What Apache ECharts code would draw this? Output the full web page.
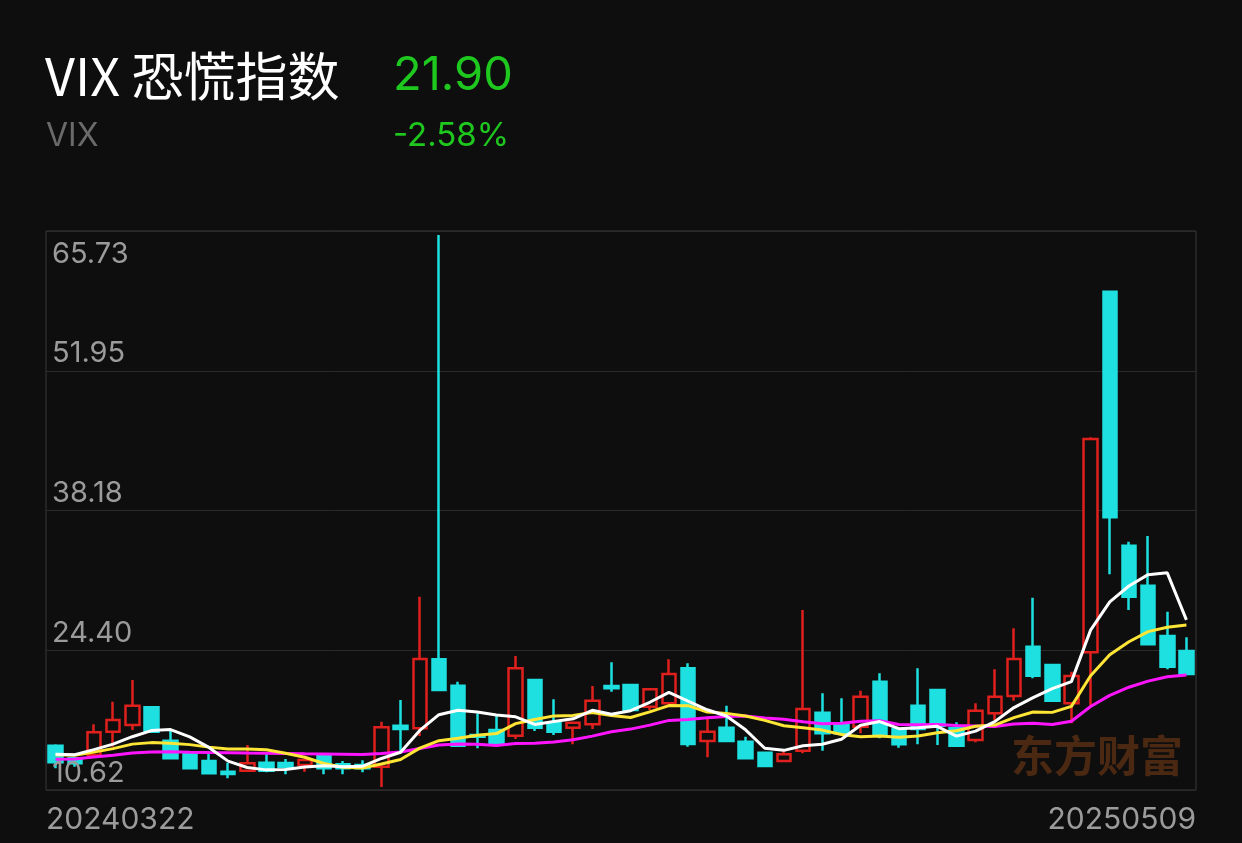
<!DOCTYPE html>
<html>
<head>
<meta charset="utf-8">
<script src="https://cdn.jsdelivr.net/npm/echarts@6/dist/echarts.min.js"></script>
<style>
html,body{margin:0;padding:0;background:#0e0e0e;}
#main{width:1242px;height:843px;}
</style>
</head>
<body>
<div id="main"></div>
<script>
// ---- data ----
const categories = ['20240322','20240328','20240405','20240412','20240419','20240426','20240503','20240510','20240517','20240524','20240531','20240607','20240614','20240621','20240628','20240705','20240712','20240719','20240726','20240802','20240809','20240816','20240823','20240830','20240906','20240913','20240920','20240927','20241004','20241011','20241018','20241025','20241101','20241108','20241115','20241122','20241129','20241206','20241213','20241220','20241227','20250103','20250110','20250117','20250124','20250131','20250207','20250214','20250221','20250228','20250307','20250314','20250321','20250328','20250404','20250411','20250417','20250425','20250502','20250509'];
const openV  = [14.74,13.48,13.81,16.14,16.81,18.58,15.24,13.98,13.21,12.15,12.25,13.05,13.01,12.81,13.81,12.88,12.81,12.64,16.74,16.48,23.37,20.73,15.81,16.31,15.74,21.30,17.04,16.54,16.88,20.70,20.80,18.64,18.97,22.47,15.21,16.54,15.14,14.04,13.21,14.24,18.04,16.91,16.64,21.13,16.41,18.73,20.30,16.48,15.31,17.98,19.70,24.63,22.80,18.97,24.07,60.07,34.71,30.72,25.69,24.20];
const closeV = [13.08,12.98,16.08,17.31,18.73,16.14,13.48,12.49,11.99,11.92,12.98,12.25,12.64,13.31,12.49,12.49,12.49,16.58,16.41,23.40,20.30,14.74,15.64,14.98,22.47,16.54,16.14,17.04,19.23,20.47,18.31,20.37,21.90,14.91,16.14,15.21,13.48,12.71,13.88,18.41,15.98,15.98,19.63,15.74,14.88,16.41,16.74,14.74,18.24,19.63,23.40,21.73,19.23,21.70,45.36,37.54,29.62,24.87,22.63,21.90];
const lowV   = [12.49,12.64,13.71,14.64,16.31,16.01,13.46,12.42,11.92,11.49,12.17,12.09,11.89,12.15,11.89,11.89,12.09,10.62,13.98,15.71,20.23,14.64,14.48,14.91,15.41,16.21,15.81,14.88,16.41,20.13,18.21,18.31,18.90,14.64,13.58,15.11,13.41,12.61,13.16,13.98,14.24,15.91,15.98,15.48,14.54,14.88,14.81,14.66,15.08,17.31,19.23,21.47,19.15,16.98,18.80,31.85,28.29,24.80,22.37,21.80];
const highV  = [14.88,13.61,16.88,19.13,21.30,18.70,16.31,14.04,13.98,13.04,14.81,13.98,13.41,13.36,13.86,13.21,13.28,17.14,19.30,29.62,65.73,21.13,17.98,17.91,23.70,21.40,19.37,17.10,20.70,23.07,20.93,20.47,23.37,22.97,17.58,18.73,15.64,14.11,14.38,28.29,19.97,19.47,20.23,21.97,16.51,22.47,20.37,17.08,18.97,22.37,26.46,29.52,22.90,22.13,45.53,60.14,35.11,35.68,28.12,25.56];
const ma5  = [13.90,13.85,14.35,14.90,15.64,16.25,16.35,15.63,14.57,13.20,12.57,12.33,12.36,12.62,12.73,12.64,12.68,13.47,14.09,16.27,17.84,18.29,18.10,17.81,17.63,16.87,17.15,17.43,18.28,17.88,18.24,19.08,20.06,19.19,18.33,17.71,16.33,14.49,14.28,14.74,14.89,15.39,16.78,17.15,16.44,16.53,16.68,15.70,16.20,17.15,18.55,19.55,20.45,21.14,26.28,29.11,30.69,31.82,32.00,27.31];
const ma10 = [13.85,13.80,14.10,14.45,14.90,15.05,14.98,14.85,14.60,14.42,14.41,14.34,13.99,13.59,12.97,12.60,12.51,12.91,13.36,14.50,15.24,15.49,15.79,15.95,16.95,17.36,17.72,17.77,18.05,17.76,17.56,18.12,18.75,18.74,18.11,17.97,17.71,17.27,16.74,16.53,16.30,15.86,15.63,15.72,15.59,15.71,16.04,16.24,16.68,16.80,17.54,18.11,18.07,18.67,21.72,23.83,25.12,26.13,26.57,26.80];
const ma20 = [13.40,13.42,13.62,13.80,14.02,14.12,14.14,14.10,14.07,14.05,14.02,14.00,13.97,13.94,13.92,13.90,13.86,13.97,14.12,14.46,14.82,14.91,14.89,14.77,14.96,14.98,15.11,15.34,15.70,16.13,16.40,16.80,17.27,17.35,17.53,17.66,17.71,17.52,17.39,17.14,16.93,16.99,17.19,17.23,16.85,16.84,16.87,16.76,16.71,16.66,16.92,16.99,16.85,17.19,18.65,19.77,20.58,21.19,21.62,21.80];
const yTickLabels = ['10.62','24.40','38.18','51.95','65.73'];
const titleText = 'VIX 恐慌指数';
const codeText = 'VIX';
const lastPrice = '21.90';
const changePct = '-2.58%';
const watermark = '东方财富';

// ---- chart ----
const candleData = categories.map((c, i) => [openV[i], closeV[i], lowV[i], highV[i]]);
const chart = echarts.init(document.getElementById('main'), null, {renderer: 'canvas'});
const G = {left: 46, top: 231, width: 1150, height: 559};
const lo = Math.min(...lowV), hi = Math.max(...highV);

const option = {
  backgroundColor: '#0e0e0e',
  animation: false,
  grid: {left: G.left, top: G.top, width: G.width, height: G.height, show: true, borderColor: '#383838', borderWidth: 1, backgroundColor: 'transparent'},
  xAxis: {type: 'category', data: categories, boundaryGap: true, axisLine: {show: false}, axisTick: {show: false}, axisLabel: {show: false}, splitLine: {show: false}},
  yAxis: [
    {type: 'value', min: lo - 0.30, max: hi + 0.40, show: false, scale: true},
    {type: 'value', min: 0, max: 4, interval: 1, axisLine: {show: false}, axisTick: {show: false}, axisLabel: {show: false},
     splitLine: {show: true, lineStyle: {color: '#2a2a2a', width: 1}}}
  ],
  series: [
    {type: 'candlestick', name: 'K', data: candleData, yAxisIndex: 0, barWidth: 14, z: 2,
     itemStyle: {color: '#0e0e0e', color0: '#1fe0e0', borderColor: '#e0201c', borderColor0: '#1fe0e0', borderWidth: 2.5}},
    {type: 'line', name: 'MA20', data: ma20, yAxisIndex: 0, symbol: 'none', z: 3, lineStyle: {color: '#ff14ff', width: 3}},
    {type: 'line', name: 'MA10', data: ma10, yAxisIndex: 0, symbol: 'none', z: 4, lineStyle: {color: '#ffe535', width: 3}},
    {type: 'line', name: 'MA5', data: ma5, yAxisIndex: 0, symbol: 'none', z: 5, lineStyle: {color: '#ffffff', width: 3}}
  ]
};
chart.setOption(option);

// texts
const labelFont = 'Inter, "Noto Sans", sans-serif';
const els = [
  {type: 'text', left: 45, top: 50, z: 10, style: {text: titleText, fill: '#ffffff', font: '52px "Noto Sans CJK SC", sans-serif'}},
  {type: 'text', left: 393, top: 52, z: 10, style: {text: lastPrice, fill: '#1ec81e', font: '47px ' + labelFont}},
  {type: 'text', left: 46, top: 120, z: 10, style: {text: codeText, fill: '#6a6a6a', font: '32px ' + labelFont}},
  {type: 'text', left: 393, top: 120, z: 10, style: {text: changePct, fill: '#1ec81e', font: '33px ' + labelFont}},
  {type: 'text', right: 1242 - 1183, top: 734, z: 0, style: {text: watermark, fill: '#4a2812', font: 'bold 43px "Noto Sans CJK SC", sans-serif'}}
];
yTickLabels.forEach((t, k) => {
  const y = chart.convertToPixel({yAxisIndex: 1}, k);
  const cy = (k === yTickLabels.length - 1) ? y + 23 : y - 17;
  els.push({type: 'text', x: 52, y: cy, z: 10, style: {text: t, fill: '#9b9b9b', font: '29px ' + labelFont, textVerticalAlign: 'middle', textAlign: 'left'}});
});
const x0 = G.left, x1 = G.left + G.width;
els.push({type: 'text', x: x0, y: 820, z: 10, style: {text: categories[0], fill: '#9b9b9b', font: '30px ' + labelFont, textVerticalAlign: 'middle', textAlign: 'left'}});
els.push({type: 'text', x: x1, y: 820, z: 10, style: {text: categories[categories.length - 1], fill: '#9b9b9b', font: '30px ' + labelFont, textVerticalAlign: 'middle', textAlign: 'right'}});
chart.setOption({graphic: {elements: els}});
</script>
</body>
</html>
